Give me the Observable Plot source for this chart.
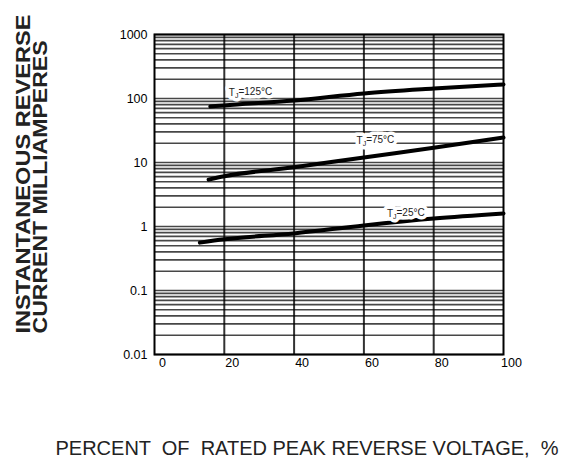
<!DOCTYPE html>
<html>
<head>
<meta charset="utf-8">
<script src="https://cdn.jsdelivr.net/npm/d3@7"></script>
<script src="https://cdn.jsdelivr.net/npm/@observablehq/plot@0.6"></script>
<style>
  html, body { margin: 0; padding: 0; background: #fff; }
  #chart svg { display: block; }
</style>
</head>
<body>
<div id="chart"></div>
<script>
// Percent of rated peak reverse voltage (x) and reverse current in mA (y)
const x125 = [16, 20, 40, 60, 80, 100];
const y125 = [75, 78, 93, 120, 143, 166];
const x75 = [15.5, 20, 40, 60, 80, 100];
const y75 = [5.4, 6.1, 8.4, 12, 17, 24.5];
const x25 = [13, 20, 40, 60, 80, 100];
const y25 = [0.56, 0.63, 0.78, 1.04, 1.33, 1.6];

const seriesNames = ["TJ=125°C", "TJ=75°C", "TJ=25°C"];
const labelX = [27.5, 63.3, 72];
const labelY = [124, 22, 1.6];

const xTicks = [0, 20, 40, 60, 80, 100];
const yTicks = [0.01, 0.1, 1, 10, 100, 1000];
const mantissas = [1, 2, 3, 4, 5, 6, 7, 8, 9];
const decades = [0.01, 0.1, 1, 10, 100];

const xTitle = "PERCENT  OF  RATED PEAK REVERSE VOLTAGE,  %";
const yTitle1 = "INSTANTANEOUS REVERSE";
const yTitle2 = "CURRENT MILLIAMPERES";

const curves = [
  ...x125.map((x, i) => ({x, y: y125[i], s: seriesNames[0]})),
  ...x75.map((x, i) => ({x, y: y75[i], s: seriesNames[1]})),
  ...x25.map((x, i) => ({x, y: y25[i], s: seriesNames[2]}))
];
const labels = seriesNames.map((s, i) => ({s, x: labelX[i], y: labelY[i]}));
const hGrid = decades.flatMap(d => mantissas.map(m => +(m * d).toPrecision(3))).concat([1000]);
const vGrid = xTicks.slice(1, -1);

const chart = Plot.plot({
  width: 565,
  height: 471,
  marginLeft: 154,
  marginRight: 62,
  marginTop: 34,
  marginBottom: 117,
  style: {fontFamily: "'Liberation Sans', Arial, sans-serif", background: "#fff", color: "#000"},
  x: {domain: [0, 100]},
  y: {type: "log", domain: [0.01, 1000]},
  marks: [
    Plot.ruleY(hGrid, {stroke: "#000", strokeOpacity: 0.72, strokeWidth: 1.7}),
    Plot.ruleX(vGrid, {stroke: "#000", strokeOpacity: 0.8, strokeWidth: 2}),
    Plot.frame({stroke: "#000", strokeWidth: 2}),
    Plot.axisX({ticks: xTicks, tickSize: 0, tickPadding: 4, dx: 8, fontSize: 12.5, label: null, tickFormat: d => String(d)}),
    Plot.axisY({ticks: yTicks, tickSize: 0, tickPadding: 7, fontSize: 12.5, label: null, tickFormat: d => String(d)}),
    Plot.line(curves, {x: "x", y: "y", z: "s", stroke: "#000", strokeWidth: 4, curve: "monotone-x"}),
    Plot.text(labels, {x: "x", y: "y", text: "s", fontSize: 10, fill: "#fff", stroke: "#fff", strokeWidth: 7, className: "curve-label"}),
    Plot.text(labels, {x: "x", y: "y", text: "s", fontSize: 10, fill: "#222", className: "curve-label"}),
    Plot.text([yTitle1], {frameAnchor: "bottom-left", dx: -125, dy: -21, rotate: -90, textAnchor: "start", fontSize: 21, fontWeight: "bold", fill: "#222", className: "ytitle"}),
    Plot.text([yTitle2], {frameAnchor: "bottom-left", dx: -108, dy: -21, rotate: -90, textAnchor: "start", fontSize: 21, fontWeight: "bold", fill: "#222", className: "ytitle"}),
    Plot.text([xTitle], {frameAnchor: "bottom", dx: -22, dy: 100, fontSize: 20, fill: "#222"})
  ]
});

// render the J as a subscript
d3.select(chart).selectAll(".curve-label text").each(function() {
  const t = this.textContent;
  const m = t.match(/^T(J)(.*)$/);
  if (!m) return;
  const sel = d3.select(this);
  sel.text(null);
  sel.append("tspan").text("T");
  sel.append("tspan").attr("dy", "0.3em").attr("font-size", "0.7em").text("J");
  sel.append("tspan").attr("dy", "-0.3em").text(m[2]);
});

// the reference's axis title is a condensed face: stretch the two lines to its length
d3.select(chart).selectAll(".ytitle text").each(function(d, i) {
  d3.select(this).attr("textLength", i === 0 ? 319 : 293).attr("lengthAdjust", "spacingAndGlyphs");
});

document.getElementById("chart").append(chart);
</script>
</body>
</html>
